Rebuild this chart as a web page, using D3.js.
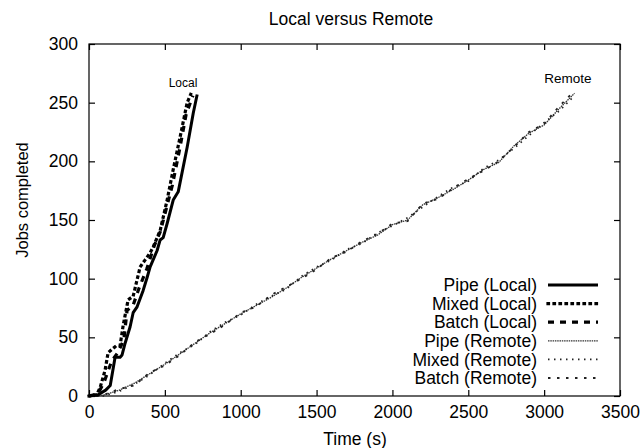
<!DOCTYPE html>
<html><head><meta charset="utf-8">
<script src="https://cdn.jsdelivr.net/npm/d3@7"></script>
<style>
html,body{margin:0;padding:0;background:#fff;}
svg{display:block;font-family:"Liberation Sans",Arial,Helvetica,sans-serif;}
</style></head>
<body><svg id="c" width="644" height="448"></svg>
<script>
// ---- data ----
const xTicks = [0, 500, 1000, 1500, 2000, 2500, 3000, 3500];
const yTicks = [0, 50, 100, 150, 200, 250, 300];

const pipeLocalT  = [0, 60, 110, 140, 172, 205, 218, 238, 271, 291, 317, 357, 383, 403, 449, 469, 489, 515, 555, 588, 647, 687, 713];
const pipeLocalV  = [0, 1, 5, 9, 33, 33, 35, 45, 59, 71, 76, 90, 101, 110, 124, 133, 135, 147, 167, 174, 212, 241, 257];
const mixedLocalT = [0, 50, 73, 106, 126, 172, 205, 225, 258, 291, 337, 403, 423, 469, 515, 555, 601, 647, 670];
const mixedLocalV = [0, 1, 7, 22, 37, 42, 43, 60, 82, 85, 110, 122, 127, 141, 167, 193, 221, 250, 257];
const batchLocalT = [0, 60, 100, 150, 190, 230, 251, 290, 330, 380, 430, 470, 510, 550, 600, 640, 685];
const batchLocalV = [0, 2, 12, 30, 37, 48, 73, 77, 92, 108, 128, 140, 160, 180, 212, 240, 256];

const remoteT      = [50, 100, 200, 300, 400, 500, 600, 700, 800, 900, 1000, 1100, 1200, 1300, 1400, 1500, 1600, 1700, 1800, 1900, 2000, 2100, 2200, 2300, 2400, 2500, 2600, 2700, 2800, 2900, 3000, 3100, 3200];
const pipeRemoteV  = [0, 1, 5, 11, 19, 27, 36, 45, 54, 62, 70, 77, 84, 92, 101, 109, 117, 124, 131, 137, 146, 150, 163, 169, 176, 184, 193, 199, 213, 224, 231, 245, 258];
const mixedRemoteV = [0, 0, 4, 10, 18, 28, 37, 44, 55, 63, 69, 78, 85, 91, 102, 110, 116, 125, 130, 139, 145, 152, 161, 170, 178, 183, 194, 201, 211, 222, 233, 243, 256];
const batchRemoteV = [0, 1, 6, 9, 20, 26, 35, 46, 53, 61, 71, 76, 86, 93, 100, 108, 118, 123, 132, 138, 147, 149, 164, 168, 177, 185, 192, 200, 212, 225, 232, 247, 260];

const seriesNames = ["Pipe (Local)", "Mixed (Local)", "Batch (Local)", "Pipe (Remote)", "Mixed (Remote)", "Batch (Remote)"];

// ---- layout ----
const L = 89, R = 620, T = 44, B = 396;
const svg = d3.select("#c");
const x = d3.scaleLinear().domain([0, 3500]).range([L, R]);
const y = d3.scaleLinear().domain([0, 300]).range([B, T]);

const styles = [
  {stroke:"#000", width:3, dash:null, cap:"butt"},
  {stroke:"#000", width:3.2, dash:"0.5,5.5", cap:"square"},
  {stroke:"#000", width:3.2, dash:"6,6", cap:"butt"},
  {stroke:"#333", width:1.3, dash:"1.5,0.8", cap:"butt"},
  {stroke:"#222", width:1.7, dash:"1.5,4.5", cap:"butt"},
  {stroke:"#222", width:1.8, dash:"2.5,6.5", cap:"butt"}
];

const series = [
  d3.zip(pipeLocalT, pipeLocalV),
  d3.zip(mixedLocalT, mixedLocalV),
  d3.zip(batchLocalT, batchLocalV),
  d3.zip(remoteT, pipeRemoteV),
  d3.zip(remoteT, mixedRemoteV),
  d3.zip(remoteT, batchRemoteV)
];

// frame
svg.append("rect").attr("x", L).attr("y", T).attr("width", R - L).attr("height", B - T)
  .attr("fill", "none").attr("stroke", "#000").attr("stroke-width", 1.2);

// axes with inward ticks
const fs = "17.5px";
const gx = svg.append("g").attr("transform", `translate(0,${B})`)
  .call(d3.axisBottom(x).tickValues(xTicks).tickFormat(d3.format("d")).tickSize(-6).tickPadding(10));
const gy = svg.append("g").attr("transform", `translate(${L},0)`)
  .call(d3.axisLeft(y).tickValues(yTicks).tickFormat(d3.format("d")).tickSize(-6).tickPadding(11));
const gt = svg.append("g").attr("transform", `translate(0,${T})`)
  .call(d3.axisTop(x).tickValues(xTicks).tickSize(-6).tickFormat(""));
const gr = svg.append("g").attr("transform", `translate(${R},0)`)
  .call(d3.axisRight(y).tickValues(yTicks).tickSize(-6).tickFormat(""));
[gx, gy, gt, gr].forEach(g => {
  g.select(".domain").remove();
  g.selectAll("line").attr("stroke", "#000").attr("stroke-width", 1.2);
  g.selectAll("text").attr("fill", "#000").style("font-size", fs)
    .style("font-family", '"Liberation Sans",Arial,sans-serif');
});

// lines
const line = d3.line().x(d => x(d[0])).y(d => y(d[1]));
const order = [3, 4, 5, 0, 2, 1];
order.forEach(i => {
  const s = styles[i];
  svg.append("path").datum(series[i]).attr("d", line)
    .attr("fill", "none").attr("stroke", s.stroke).attr("stroke-width", s.width)
    .attr("stroke-dasharray", s.dash).attr("stroke-linecap", s.cap)
    .attr("stroke-linejoin", "round");
});

// legend
const legY = [285, 303.6, 322.2, 340.8, 359.4, 378];
seriesNames.forEach((n, i) => {
  svg.append("text").attr("x", 537).attr("y", legY[i]).attr("dy", "0.35em")
    .attr("text-anchor", "end").style("font-size", "17.5px").attr("fill", "#000").text(n);
  const s = styles[i];
  svg.append("line").attr("x1", 548).attr("x2", 598).attr("y1", legY[i]).attr("y2", legY[i])
    .attr("stroke", s.stroke).attr("stroke-width", s.width)
    .attr("stroke-dasharray", s.dash).attr("stroke-linecap", s.cap);
});

// annotations
svg.append("text").attr("x", 183).attr("y", 87).attr("text-anchor", "middle")
  .style("font-size", "12px").text("Local");
svg.append("text").attr("x", 568).attr("y", 83).attr("text-anchor", "middle")
  .style("font-size", "13.5px").text("Remote");

// titles
svg.append("text").attr("x", 351).attr("y", 25).attr("text-anchor", "middle")
  .style("font-size", "17.5px").text("Local versus Remote");
svg.append("text").attr("x", 355).attr("y", 445).attr("text-anchor", "middle")
  .style("font-size", "17.5px").text("Time (s)");
svg.append("text").attr("transform", "translate(28,200) rotate(-90)").attr("text-anchor", "middle")
  .style("font-size", "16.5px").text("Jobs completed");
</script></body></html>
